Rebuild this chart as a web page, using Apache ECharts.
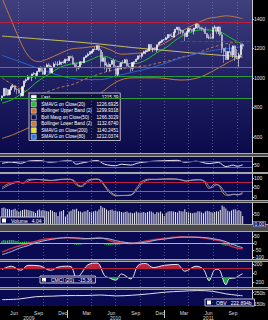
<!DOCTYPE html>
<html><head><meta charset="utf-8">
<script src="https://cdn.jsdelivr.net/npm/echarts@6/dist/echarts.min.js"></script>
<style>html,body{margin:0;padding:0;background:#000;overflow:hidden}#c{width:268px;height:320px}</style>
</head><body><div id="c"></div>
<script>
// ---------- DATA ----------
const firstWeek = '2009-05-01'; // weekly bars, Fridays
const open = [866,877,929,883,887,919,940,946,921,919, 896,879,940,979,987,1010,1004,1026,1029,1016, 1043,1068,1044,1025,1072,1088,1080,1036,1069,1094, 1091,1092,1106,1106,1102,1127,1115,1145,1136,1092, 1074,1066,1075,1109,1104,1139,1150,1160,1167,1178, 1194,1192,1217,1187,1111,1136,1088,1089,1065,1092, 1117,1077,1023,1078,1065,1103,1102,1122,1079,1072, 1065,1104,1110,1126,1149,1146,1165,1176,1183,1183, 1226,1199,1200,1189,1225,1240,1244,1257,1258,1272, 1293,1283,1276,1311,1329,1343,1320,1321,1304,1279, 1314,1332,1328,1320,1337,1364,1340,1338,1333,1331, 1300,1271,1272,1268,1340,1344,1316,1345,1292,1199, 1179,1124,1177,1174,1154,1216,1136,1131,1156,1225];
const high = [880,930,930,924,920,951,956,947,930,932, 898,943,980,996,1018,1013,1027,1039,1032,1048, 1074,1080,1065,1076,1097,1101,1085,1071,1105,1113, 1112,1119,1108,1118,1128,1133,1146,1150,1151,1104, 1104,1079,1112,1112,1139,1151,1170,1181,1182,1195, 1214,1218,1220,1197,1174,1141,1104,1105,1093,1121, 1131,1078,1079,1100,1104,1120,1128,1130,1095,1076, 1105,1111,1131,1149,1158,1168,1184,1189,1196,1227, 1226,1205,1206,1225,1241,1246,1259,1263,1278,1294, 1296,1302,1311,1330,1344,1344,1333,1324,1304,1314, 1337,1339,1329,1338,1364,1370,1359,1347,1334,1346, 1302,1292,1298,1342,1356,1344,1348,1347,1307,1200, 1208,1182,1230,1205,1220,1220,1195,1171,1225,1234];
const low = [845,877,878,879,881,918,930,903,888,896, 869,875,940,965,984,990,978,1018,991,1016, 1037,1041,1020,1020,1066,1073,1029,1029,1067,1086, 1080,1086,1085,1095,1097,1115,1115,1131,1090,1071, 1044,1057,1075,1086,1099,1134,1143,1156,1165,1175, 1186,1188,1182,1066,1111,1056,1040,1062,1043,1089, 1071,1011,1011,1063,1056,1094,1100,1076,1069,1040, 1047,1091,1107,1122,1131,1131,1160,1160,1177,1180, 1195,1174,1187,1174,1218,1233,1242,1251,1258,1262, 1271,1276,1275,1302,1322,1294,1297,1291,1249,1279, 1305,1322,1309,1294,1331,1330,1329,1318,1311,1296, 1268,1262,1263,1262,1333,1296,1295,1282,1168,1102, 1121,1122,1170,1152,1136,1114,1127,1075,1140,1192];
const close = [877.5,929.2,882.9,887.0,919.1,940.1,946.2,921.2,918.9,896.4, 879.1,940.4,979.3,987.5,1010.5,1004.1,1026.1,1028.9,1016.4,1042.7, 1068.3,1044.4,1025.2,1071.5,1087.7,1079.6,1036.2,1069.3,1093.5,1091.4, 1091.5,1106.0,1106.4,1102.5,1126.5,1115.1,1145.0,1136.0,1091.8,1073.9, 1066.2,1075.5,1109.2,1104.5,1138.7,1150.0,1159.9,1166.6,1178.1,1194.4, 1192.1,1217.3,1186.7,1110.9,1135.7,1087.7,1089.4,1064.9,1091.6,1117.5, 1076.8,1022.6,1078.0,1064.9,1102.7,1101.6,1121.6,1079.3,1071.7,1064.6, 1104.5,1109.6,1125.6,1148.7,1146.2,1165.2,1176.2,1183.1,1183.3,1225.9, 1199.2,1199.7,1189.4,1224.7,1240.4,1243.9,1256.8,1257.6,1271.5,1293.2, 1283.4,1276.3,1310.9,1329.2,1343.0,1319.9,1321.2,1304.3,1279.2,1313.8, 1332.4,1328.2,1319.7,1337.4,1363.6,1340.2,1337.8,1333.3,1331.1,1300.2, 1271.0,1271.5,1268.5,1339.7,1343.8,1316.1,1345.0,1292.3,1199.4,1178.8, 1123.5,1176.8,1174.0,1154.2,1216.0,1136.4,1131.4,1155.5,1224.6,1215.4];
const volume = [80,82,78,75,74,70,72,76,68,60, 66,70,72,72,70,68,65,62,55,68, 72,68,70,68,65,62,70,66,60,58, 40,62,64,70,38,48,62,66,74,72, 76,64,62,58,62,64,70,60,58,62, 66,64,72,90,82,80,72,66,70,72, 66,68,62,64,60,58,60,62,56,58, 54,56,62,58,56,58,60,56,60,64, 62,58,50,60,58,62,52,40,56,62, 64,64,62,60,58,66,64,62,74,60, 58,56,54,56,58,64,62,58,54,62, 66,64,60,58,60,64,62,70,92,86, 78,66,62,68,72,74,68,70,64,40];
const macdHist = [20,25,22,22,24,25,24,20,18,14, 10,12,14,14,14,12,12,10,8,8, 8,5,2,3,4,3,-1,0,1,1, 0,1,0,-1,0,-1,0,-1,-4,-7, -9,-9,-7,-6,-3,-1,1,2,3,4, 4,5,3,-2,-4,-8,-10,-12,-12,-10, -10,-12,-9,-8,-5,-3,-1,-3,-3,-4, -1,1,3,5,6,7,7,7,6,7, 5,4,2,3,3,3,3,3,2,2, 1,0,1,2,2,1,0,-1,-3,-3, -1,0,0,0,1,1,0,-1,-2,-3, -5,-6,-6,-4,-3,-3,-2,-4,-9,-12, -16,-15,-13,-12,-10,-7,-6,-5,-2,-1];

// moving averages & bands (date, value)
const sma20 = [['2009-05-01',829],['2009-06-05',850],['2009-07-03',880],['2009-08-07',920],['2009-09-04',965],['2009-10-02',1000],['2009-11-06',1040],['2009-12-04',1070],['2010-01-01',1088],['2010-02-05',1100],['2010-03-05',1105],['2010-04-02',1125],['2010-05-07',1148],['2010-06-04',1140],['2010-07-02',1115],['2010-08-06',1100],['2010-09-03',1095],['2010-10-01',1103],['2010-11-05',1135],['2010-12-03',1170],['2011-01-07',1205],['2011-02-04',1245],['2011-03-04',1280],['2011-04-01',1303],['2011-05-06',1322],['2011-06-03',1326],['2011-07-01',1320],['2011-08-05',1306],['2011-09-02',1275],['2011-10-07',1240],['2011-10-21',1227]];
const bollUpper = [['2009-05-01',1540],['2009-05-29',1420],['2009-06-26',1300],['2009-07-24',1190],['2009-08-21',1125],['2009-09-18',1110],['2009-10-16',1125],['2009-12-11',1170],['2010-01-15',1195],['2010-03-12',1205],['2010-04-23',1215],['2010-06-11',1190],['2010-07-23',1160],['2010-09-10',1165],['2010-10-22',1175],['2010-12-10',1215],['2011-01-21',1255],['2011-03-11',1320],['2011-04-22',1360],['2011-06-10',1400],['2011-07-15',1410],['2011-08-19',1420],['2011-09-16',1415],['2011-10-21',1400]];
const bollMid = [['2009-05-01',1000],['2009-06-05',959],['2009-07-03',932],['2009-08-07',900],['2009-09-04',885],['2009-10-02',895],['2009-10-30',913],['2009-12-04',935],['2010-01-29',960],['2010-03-05',990],['2010-04-30',1025],['2010-06-04',1045],['2010-07-30',1063],['2010-09-03',1072],['2010-10-29',1083],['2010-12-03',1098],['2011-01-28',1120],['2011-03-04',1140],['2011-04-29',1163],['2011-06-03',1190],['2011-07-29',1222],['2011-09-02',1235],['2011-10-21',1245]];
const bollLower = [['2009-05-01',590],['2009-06-12',615],['2009-08-07',660],['2009-10-02',700],['2010-01-01',740],['2010-04-02',845],['2010-07-02',970],['2010-09-03',1000],['2010-12-03',1000],['2011-03-04',985],['2011-05-06',1000],['2011-07-01',1045],['2011-09-02',1110],['2011-10-21',1150]];
const sma200 = [['2009-05-01',1283],['2009-09-04',1265],['2010-01-01',1248],['2010-05-07',1228],['2010-09-03',1205],['2011-01-07',1185],['2011-05-06',1165],['2011-09-02',1148],['2011-10-21',1140]];
const sma80 = [['2009-05-01',1152],['2009-07-03',1112],['2009-09-04',1070],['2009-11-06',1030],['2010-01-01',1002],['2010-03-05',988],['2010-05-07',988],['2010-07-02',1012],['2010-09-03',1038],['2010-11-05',1065],['2011-01-07',1100],['2011-03-04',1135],['2011-05-06',1165],['2011-07-01',1185],['2011-09-02',1200],['2011-10-21',1212]];
const resistance = [1374];
const resistanceShort = {from:'2011-03-01', value:1251};
const supports = [1075, 1010, 865];

const rsi = [['2009-05-01',58],['2009-06-05',66],['2009-07-10',58],['2009-08-07',72],['2009-09-18',76],['2009-10-30',65],['2009-12-25',74],['2010-01-15',74],['2010-02-05',52],['2010-02-19',58],['2010-04-23',76],['2010-05-21',52],['2010-07-02',42],['2010-07-23',52],['2010-08-27',46],['2010-09-24',60],['2010-11-05',70],['2010-12-31',75],['2011-02-18',78],['2011-03-18',65],['2011-04-29',72],['2011-06-17',56],['2011-07-22',64],['2011-08-19',36],['2011-09-16',46],['2011-09-30',38],['2011-10-21',48]];
const stochK = [['2009-05-01',50],['2009-05-29',72],['2009-07-03',80],['2009-07-17',72],['2009-08-07',92],['2009-09-04',93],['2009-10-02',90],['2009-10-30',86],['2009-11-27',92],['2009-12-25',94],['2010-01-15',93],['2010-02-05',62],['2010-02-19',55],['2010-03-05',70],['2010-03-26',92],['2010-04-23',95],['2010-05-14',70],['2010-06-04',30],['2010-07-02',6],['2010-07-30',8],['2010-08-27',10],['2010-09-17',45],['2010-10-08',82],['2010-11-05',94],['2010-12-03',92],['2011-01-07',95],['2011-02-04',95],['2011-03-04',90],['2011-03-18',84],['2011-04-08',88],['2011-05-06',92],['2011-05-27',85],['2011-06-17',45],['2011-07-08',68],['2011-07-22',62],['2011-08-12',15],['2011-08-26',8],['2011-09-16',15],['2011-09-30',10],['2011-10-21',25]];
const stochD = [['2009-05-01',42],['2009-05-29',64],['2009-07-03',78],['2009-07-24',74],['2009-08-14',88],['2009-09-11',92],['2009-10-09',90],['2009-11-06',87],['2009-12-04',91],['2010-01-01',93],['2010-01-22',90],['2010-02-12',62],['2010-02-26',56],['2010-03-12',72],['2010-04-02',90],['2010-04-30',93],['2010-05-21',62],['2010-06-11',28],['2010-07-09',8],['2010-08-06',8],['2010-09-03',14],['2010-09-24',48],['2010-10-15',80],['2010-11-12',92],['2011-01-14',94],['2011-02-11',94],['2011-03-11',88],['2011-03-25',84],['2011-04-15',88],['2011-05-13',90],['2011-06-03',80],['2011-06-24',48],['2011-07-15',64],['2011-07-29',58],['2011-08-19',18],['2011-09-02',10],['2011-09-23',14],['2011-10-07',12],['2011-10-21',18]];
const macdLine = [['2009-05-01',-62],['2009-06-05',-35],['2009-07-03',-18],['2009-08-07',0],['2009-09-04',15],['2009-10-02',28],['2009-11-06',35],['2009-12-04',40],['2010-01-01',42],['2010-02-05',35],['2010-03-05',32],['2010-04-02',36],['2010-04-30',42],['2010-06-04',25],['2010-07-02',8],['2010-08-06',2],['2010-09-03',0],['2010-10-01',10],['2010-11-05',22],['2010-12-03',30],['2011-01-07',38],['2011-02-04',44],['2011-03-04',48],['2011-04-01',45],['2011-05-06',44],['2011-06-03',38],['2011-07-01',28],['2011-08-05',15],['2011-09-02',-15],['2011-09-30',-32],['2011-10-21',-38]];
const macdSignal = [['2009-05-01',-80],['2009-06-05',-58],['2009-07-03',-35],['2009-08-07',-15],['2009-09-04',5],['2009-10-02',18],['2009-11-06',30],['2009-12-04',38],['2010-01-01',41],['2010-02-05',40],['2010-03-05',36],['2010-04-02',34],['2010-04-30',37],['2010-06-04',34],['2010-07-02',20],['2010-08-06',8],['2010-09-03',3],['2010-10-01',4],['2010-11-05',14],['2010-12-03',25],['2011-01-07',33],['2011-02-04',40],['2011-03-04',45],['2011-04-01',46],['2011-05-06',44],['2011-06-03',42],['2011-07-01',34],['2011-08-05',22],['2011-09-02',2],['2011-09-30',-18],['2011-10-21',-30]];
const cmci = [['2009-05-01',80],['2009-06-05',150],['2009-07-10',60],['2009-08-07',170],['2009-09-18',160],['2009-10-30',60],['2009-11-27',130],['2009-12-25',150],['2010-01-15',140],['2010-02-05',-120],['2010-02-19',-40],['2010-03-19',180],['2010-04-23',220],['2010-05-21',-60],['2010-06-04',-100],['2010-07-02',-160],['2010-07-23',-20],['2010-08-27',-130],['2010-09-24',170],['2010-10-22',210],['2010-11-19',120],['2010-12-31',170],['2011-02-18',190],['2011-03-18',40],['2011-04-29',150],['2011-05-27',80],['2011-06-17',-170],['2011-07-08',70],['2011-07-22',80],['2011-08-19',-260],['2011-09-02',-120],['2011-09-23',-110],['2011-10-07',-60],['2011-10-21',-15]];
const obv = [['2009-05-01',190],['2009-07-03',195],['2009-09-04',215],['2009-11-06',220],['2010-01-01',225],['2010-03-05',225],['2010-05-07',230],['2010-07-02',222],['2010-09-03',228],['2010-11-05',240],['2011-01-07',255],['2011-03-04',262],['2011-05-06',268],['2011-07-01',262],['2011-08-19',240],['2011-09-30',228],['2011-10-21',223]];

const legendNames = ['Last','SMAVG on Close(20)','Bollinger Upper Band (2)','Boll Mavg on Close(50)','Bollinger Lower Band (2)','SMAVG on Close(200)','SMAVG on Close(80)'];
const legendValues = ['1215.39','1226.6925','1299.9318','1266.3029','1132.6740','1140.2451','1212.0374'];
const cmciLast = '-15.36';
const obvLast = '222.894b';
const volumeLast = '4.04';
const priceTicks = [600,800,1000,1200,1400];
const monthLabelDates = ['2009-06-15','2009-09-15','2009-12-15','2010-03-15','2010-06-15','2010-09-15','2010-12-15','2011-03-15','2011-06-15','2011-09-15'];
const monthLabels = ['Jun','Sep','Dec','Mar','Jun','Sep','Dec','Mar','Jun','Sep'];
const yearLabelDates = ['2009-08-10','2010-07-01','2011-06-15'];
const yearLabels = ['2009','2010','2011'];
const yearStarts = ['2010-01-01','2011-01-01'];
const quarterStarts = ['2009-07-01','2009-10-01','2010-01-01','2010-04-01','2010-07-01','2010-10-01','2011-01-01','2011-04-01','2011-07-01','2011-10-01'];

// ---------- BUILD ----------
const T = s => Date.UTC(+s.slice(0,4), +s.slice(5,7)-1, +s.slice(8,10));
const weeks = close.map((_, i) => T(firstWeek) + i * 7 * 86400000);
const candles = close.map((c, i) => [weeks[i], open[i], c, low[i], high[i]]);
const xMin = T('2009-04-23') + 12*3600000, xMax = T('2011-11-25');
const FONT = 'Liberation Sans';

const panels = [
  {top:0, height:153}, {top:157, height:15}, {top:174, height:26}, {top:203, height:21},
  {top:232, height:27}, {top:262, height:25}, {top:290, height:18}
];
const yCfg = [
  {min:491, max:1527, ticks:priceTicks},
  {min:0, max:100, ticks:[50]},
  {min:-16, max:121, ticks:[0,50,100]},
  {min:0, max:105, ticks:[50]},
  {min:-111, max:82, ticks:[-100,-50,0,50]},
  {min:-311, max:244, ticks:[-200,0,200]},
  {min:135, max:273, ticks:[150,250], suffix:'b'}
];
const mainGrad = {type:'linear', x:0, y:0, x2:0, y2:1, colorStops:[{offset:0,color:'#40407e'},{offset:0.5,color:'#202064'},{offset:1,color:'#0b0b4c'}]};

const grid = panels.map((p,i)=>({left:0, right:16, top:p.top, height:p.height, show:true, borderWidth:0, backgroundColor: i===0 ? mainGrad : '#0a0a52'}));
const mLabelVals = monthLabelDates.map(T), yLabelVals = yearLabelDates.map(T);
const xAxis = panels.map((p,i)=>({type:'value', gridIndex:i, min:xMin, max:xMax, scale:true,
  axisLine:{show:false}, axisTick:{show:false}, splitLine:{show:false},
  axisLabel: i===6 ? {show:true, customValues: mLabelVals, color:'#d8d8d8', fontSize:5, fontFamily:FONT, margin:4,
     formatter: v => monthLabels[mLabelVals.indexOf(v)] || ''} : {show:false}
}));
xAxis.push({type:'value', gridIndex:6, min:xMin, max:xMax, scale:true, position:'bottom', offset:4,
  axisLine:{show:false}, splitLine:{show:false},
  axisTick:{show:true, customValues: yearStarts.map(T), length:8, lineStyle:{color:'#c8c8c8', width:1}},
  axisLabel:{show:true, customValues: yLabelVals, color:'#d8d8d8', fontSize:5, fontFamily:FONT, margin:5,
     formatter: v => yearLabels[yLabelVals.indexOf(v)] || ''}});
const yAxis = yCfg.map((c,i)=>({type:'value', gridIndex:i, position:'right', min:c.min, max:c.max,
  axisLine:{show:true, lineStyle:{color:'#d0d0d0', width:1}},
  axisTick:{show:true, customValues:c.ticks, length:2, lineStyle:{color:'#d0d0d0'}},
  axisLabel:{show:true, customValues:c.ticks, color:'#e0e0e0', fontSize:5, fontFamily:FONT, margin:2, formatter: v => v + (c.suffix||'')},
  splitLine:{show:false}}));

const vgrid = quarterStarts.map(d=>({xAxis:T(d), lineStyle:{color:'#8a8ab8', type:[1,2], width:1, opacity:0.55}}));
const hline = (v,color) => ({yAxis:v, lineStyle:{color, width:1, type:'solid'}});
const ml = data => ({symbol:['none','none'], silent:true, label:{show:false}, animation:false, data});
const pts = arr => arr.map(d=>[T(d[0]), d[1]]);
const lineS = (name, data, xi, color, extra) => Object.assign({name, type:'line', xAxisIndex:xi, yAxisIndex:xi, data:pts(data),
  showSymbol:false, symbol:'none', smooth:0.35, lineStyle:{color, width:1}, itemStyle:{color}, z:3}, extra||{});
const RED = '#b8203c', GREEN = '#22a044';

const series = [
  {name:'Last', type:'candlestick', xAxisIndex:0, yAxisIndex:0, data:candles, barWidth:1.6, z:4,
    itemStyle:{color:'#ffffff', color0:'#c8c8d8', borderColor:'#ffffff', borderColor0:'#c8c8d8', borderWidth:0.6},
    markLine: ml([...vgrid,
      ...resistance.map(v=>hline(v,RED)),
      [{coord:[T(resistanceShort.from), resistanceShort.value], lineStyle:{color:RED,width:1}},{coord:[xMax, resistanceShort.value]}],
      ...supports.map(v=>hline(v,'#2a9a3a'))])},
  lineS('SMAVG on Close(20)', sma20, 0, '#22c030'),
  lineS('Bollinger Upper Band (2)', bollUpper, 0, '#c07a40'),
  lineS('Boll Mavg on Close(50)', bollMid, 0, '#b87040', {lineStyle:{color:'#b87040', width:1, type:[3,2]}}),
  lineS('Bollinger Lower Band (2)', bollLower, 0, '#c07a40'),
  lineS('SMAVG on Close(200)', sma200, 0, '#c8c060'),
  lineS('SMAVG on Close(80)', sma80, 0, '#2a62d0'),
  lineS('rsiUp', rsi, 1, RED, {lineStyle:{width:0}, areaStyle:{origin:70, opacity:1}, z:2}),
  lineS('rsiDn', rsi, 1, GREEN, {lineStyle:{width:0}, areaStyle:{origin:30, opacity:1}, z:2}),
  lineS('RSI', rsi, 1, '#e8e8f0', {markLine: ml([...vgrid, hline(70,RED), hline(30,GREEN)])}),
  lineS('%K', stochK, 2, '#d08838', {markLine: ml([...vgrid, hline(80,RED), hline(30,GREEN)])}),
  lineS('%D', stochD, 2, '#8898d0'),
  {name:'Volume', type:'bar', xAxisIndex:3, yAxisIndex:3, data: volume.map((v,i)=>[weeks[i], v]), barWidth:1,
    itemStyle:{color:'#e4e4ec'}, markLine: ml([...vgrid])},
  {name:'Hist', type:'bar', xAxisIndex:4, yAxisIndex:4, data: macdHist.map((v,i)=>[weeks[i], v]), barWidth:1.2,
    itemStyle:{color:'#28c048'}, markLine: ml([...vgrid, hline(0,'#b0b0c0')])},
  lineS('MACD', macdLine, 4, '#c8304c', {lineStyle:{color:'#c8304c', width:1.5}}),
  lineS('Signal', macdSignal, 4, '#a8b4dc'),
  lineS('cmciUp', cmci, 5, RED, {lineStyle:{width:0}, areaStyle:{origin:100, opacity:1}, z:2}),
  lineS('cmciDn', cmci, 5, GREEN, {lineStyle:{width:0}, areaStyle:{origin:-100, opacity:1}, z:2}),
  lineS('CMCI (20)', cmci, 5, '#e8e8f0', {markLine: ml([...vgrid, hline(100,RED), hline(-100,GREEN)])}),
  lineS('OBV', obv, 6, '#e0e0ea', {markLine: ml([...vgrid])})
];
const T0 = 'rgba(0,0,0,0)';
const visualMap = [
  {show:false, type:'piecewise', seriesIndex:7, dimension:1, pieces:[{gte:70, lte:100, color:RED},{gte:0, lt:70, color:T0}], outOfRange:{color:T0}},
  {show:false, type:'piecewise', seriesIndex:8, dimension:1, pieces:[{gte:0, lte:30, color:GREEN},{gt:30, lte:100, color:T0}], outOfRange:{color:T0}},
  {show:false, type:'piecewise', seriesIndex:16, dimension:1, pieces:[{gte:100, lte:400, color:RED},{gte:-400, lt:100, color:T0}], outOfRange:{color:T0}},
  {show:false, type:'piecewise', seriesIndex:17, dimension:1, pieces:[{gte:-400, lte:-100, color:GREEN},{gt:-100, lte:400, color:T0}], outOfRange:{color:T0}}
];
const legendColors = ['#ffffff','#22c030','#d07830','#101040','#d07830','#e8e020','#2a78e0'];
const smallLegend = (name, value, left, top) => ({left, top, orient:'horizontal', selectedMode:false,
  itemWidth:4, itemHeight:4, padding:[1,3,1,2], backgroundColor:'#0a0a52', borderColor:'#c0c0d0', borderWidth:1,
  data:[{name, icon:'rect', itemStyle:{color:'#ffffff', borderWidth:0}}],
  formatter: n => n + '   ' + value, textStyle:{color:'#ffffff', fontSize:5, fontFamily:FONT}});
const legend = [
  {left:29, top:93, orient:'vertical', selectedMode:false, itemWidth:5, itemHeight:5, itemGap:1,
    padding:[2,2,1,2], backgroundColor:'rgba(14,14,64,0.92)', borderColor:'#b8b8c8', borderWidth:1,
    data: legendNames.map((n,i)=>({name:n, icon:'rect', itemStyle:{color:legendColors[i], borderColor:'#ffffff', borderWidth:0.5}})),
    formatter: n => '{n|' + n + '}{v|' + legendValues[legendNames.indexOf(n)] + '}',
    textStyle:{color:'#ffffff', fontSize:4.6, fontFamily:FONT,
      rich:{n:{width:57, fontSize:4.6, fontFamily:FONT, color:'#ffffff'}, v:{width:20, align:'right', fontSize:4.6, fontFamily:FONT, color:'#ffffff'}}}},
  smallLegend('CMCI (20)', cmciLast, 40, 276),
  smallLegend('OBV', obvLast, 205, 299),
  smallLegend('Volume', volumeLast, 0, 217)
];
const sep = (y,h) => ({type:'group', children:[
  {type:'rect', shape:{x:0,y:y,width:268,height:h}, style:{fill:'#4a4a4a'}, silent:true},
  {type:'rect', shape:{x:0,y:y,width:268,height:1}, style:{fill:'#a8a8a8'}, silent:true},
  {type:'rect', shape:{x:0,y:y+h-1,width:268,height:1}, style:{fill:'#a8a8a8'}, silent:true}]});
const graphic = [sep(153,4), sep(172,2), sep(200,3), sep(224,8), sep(259,3), sep(287,3),
  {type:'text', left:253, top:221, z:10, style:{text:'0.00', fill:'#ffffff', fontSize:5, fontFamily:FONT, backgroundColor:'#0a0a52', borderColor:'#d0d0d0', borderWidth:0.5, padding:[0,1]}}];

const chart = echarts.init(document.getElementById('c'), null, {renderer:'svg', width:268, height:320});
chart.setOption({backgroundColor:'#000000', animation:false, grid, xAxis, yAxis, series, visualMap, legend, graphic});
</script></body></html>
